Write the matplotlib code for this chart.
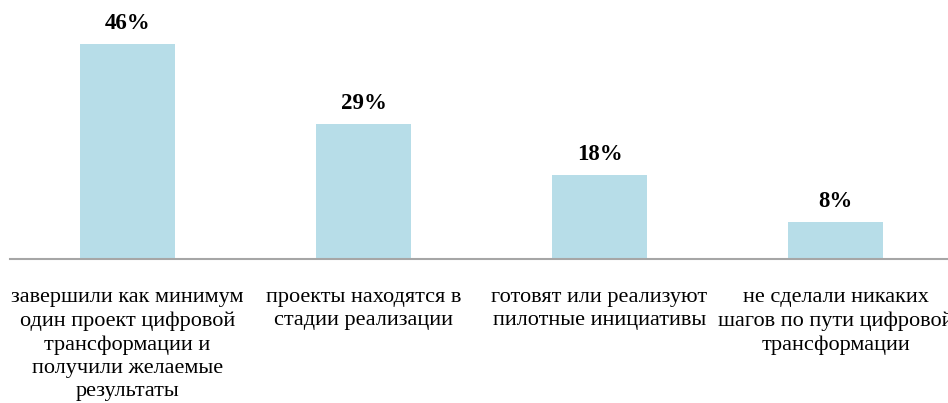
import matplotlib
matplotlib.use("Agg")
import matplotlib.pyplot as plt

categories = [
    "завершили как минимум\nодин проект цифровой\nтрансформации и\nполучили желаемые\nрезультаты",
    "проекты находятся в\nстадии реализации",
    "готовят или реализуют\nпилотные инициативы",
    "не сделали никаких\nшагов по пути цифровой\nтрансформации",
]
values = [46, 29, 18, 8]
value_labels = ["46%", "29%", "18%", "8%"]

W, H, DPI = 948, 403, 100
fig = plt.figure(figsize=(W / DPI, H / DPI), dpi=DPI)
left_px, right_px = 9.5, 953.5
bottom_px = H - 259
top_px = H - 25.5
ax = fig.add_axes([left_px / W, bottom_px / H, (right_px - left_px) / W, (top_px - bottom_px) / H])

x = list(range(len(values)))
ax.bar(x, values, width=0.4, color="#B7DDE8", zorder=2)
ax.set_xlim(-0.5, len(values) - 0.5)
ax.set_ylim(0, 50)

for xi, v, lab in zip(x, values, value_labels):
    ax.annotate(lab, (xi, v), xytext=(0, 7), textcoords="offset points",
                ha="center", va="bottom", fontsize=16.5, fontweight="bold",
                family="Liberation Serif", color="black")

for s in ["top", "right", "left"]:
    ax.spines[s].set_visible(False)
ax.spines["bottom"].set_color("#A6A6A6")
ax.spines["bottom"].set_linewidth(1.5)
ax.set_yticks([])
ax.set_xticks(x)
ax.set_xticklabels(categories, fontsize=16, family="Liberation Serif", linespacing=1.3)
ax.tick_params(axis="x", length=0, pad=21)

fig.savefig("out.png", dpi=DPI)
